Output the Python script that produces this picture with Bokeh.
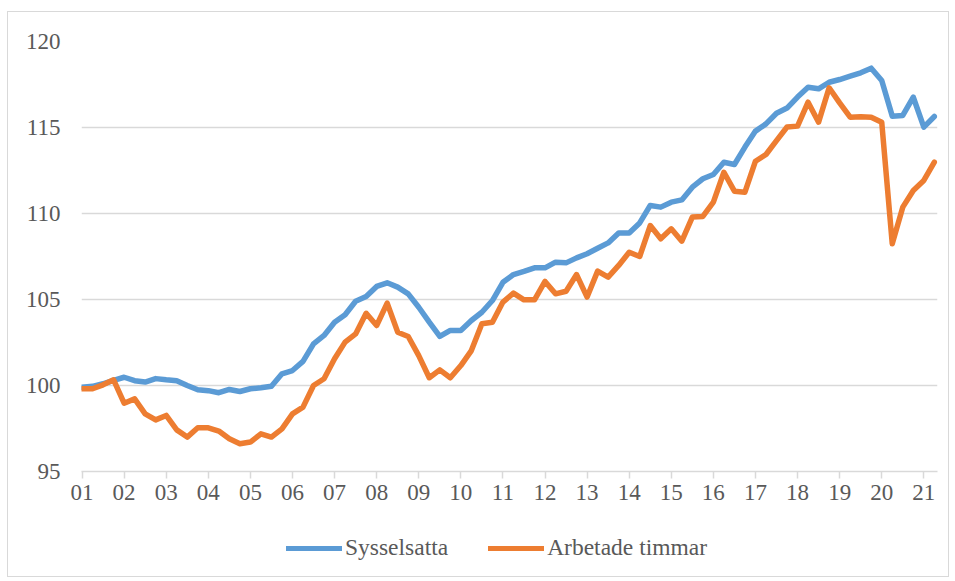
from bokeh.plotting import figure
from bokeh.layouts import column
from bokeh.models import Range1d, FixedTicker, Legend, LegendItem
from bokeh.embed import file_html
from bokeh.resources import INLINE

# ---- data -------------------------------------------------------------
year_labels = ["01", "02", "03", "04", "05", "06", "07", "08", "09", "10",
               "11", "12", "13", "14", "15", "16", "17", "18", "19", "20", "21"]
y_ticks = [95, 100, 105, 110, 115, 120]
series_names = ["Sysselsatta", "Arbetade timmar"]

# quarterly index values, 2001 Q1 .. 2021 Q2
sysselsatta = [
    99.9, 99.95, 100.1, 100.3,
    100.48, 100.28, 100.2, 100.4,
    100.33, 100.28, 100.0, 99.75,
    99.7, 99.58, 99.77, 99.65,
    99.81, 99.87, 99.96, 100.68,
    100.87, 101.4, 102.42, 102.91,
    103.68, 104.11, 104.9, 105.17,
    105.76, 105.97, 105.72, 105.33,
    104.55, 103.68, 102.85, 103.2,
    103.2, 103.78, 104.26, 104.94,
    106.0, 106.45, 106.63, 106.84,
    106.84, 107.17, 107.13, 107.42,
    107.66, 107.98, 108.29, 108.87,
    108.87, 109.45, 110.47, 110.37,
    110.66, 110.79, 111.53, 112.02,
    112.27, 112.98, 112.85, 113.86,
    114.79, 115.21, 115.83, 116.13,
    116.77, 117.34, 117.25, 117.63,
    117.79, 117.98, 118.18, 118.45,
    117.73, 115.66, 115.7, 116.76,
    115.02, 115.64,
]
arbetade_timmar = [
    99.81, 99.81, 100.04, 100.33,
    98.97, 99.22, 98.35, 98.0,
    98.26, 97.42, 97.0, 97.54,
    97.54, 97.35, 96.9, 96.61,
    96.71, 97.19, 97.0, 97.48,
    98.35, 98.74, 100.0, 100.39,
    101.55, 102.52, 103.0, 104.2,
    103.49, 104.79, 103.1, 102.85,
    101.74, 100.45, 100.91, 100.45,
    101.16, 102.03, 103.59, 103.68,
    104.85, 105.37, 104.98, 104.98,
    106.05, 105.33, 105.48, 106.45,
    105.14, 106.65, 106.3, 106.98,
    107.75, 107.5, 109.3, 108.53,
    109.11, 108.39, 109.79, 109.83,
    110.66, 112.4, 111.3, 111.24,
    113.04, 113.43, 114.24, 115.03,
    115.08, 116.47, 115.31, 117.31,
    116.43, 115.6, 115.63, 115.6,
    115.3, 108.24, 110.37, 111.34,
    111.92, 112.98,
]
colors = ["#5B9BD5", "#ED7D31"]

# ---- main chart -------------------------------------------------------
x = list(range(len(sysselsatta)))
FONT = "Liberation Serif"
TXT = "#595959"
GRID = "#d9d9d9"

p = figure(width=940, height=508, output_backend="svg", toolbar_location=None, tools="",
           x_range=Range1d(-0.05, len(x) - 0.7), y_range=Range1d(y_ticks[0], y_ticks[-1]),
           min_border_left=73, min_border_right=11, min_border_top=29, min_border_bottom=49)
p.outline_line_color = None
p.background_fill_color = "white"
p.border_fill_color = "white"

r1 = p.line(x, sysselsatta, line_color=colors[0], line_width=5.5,
            line_join="round", line_cap="round")
r2 = p.line(x, arbetade_timmar, line_color=colors[1], line_width=5.5,
            line_join="round", line_cap="round")

# grid
p.xgrid.visible = False
p.ygrid.grid_line_color = GRID
p.ygrid.grid_line_width = 1.5
p.ygrid.ticker = FixedTicker(ticks=y_ticks)

# y axis
p.yaxis.ticker = FixedTicker(ticks=y_ticks)
p.yaxis.axis_line_color = None
p.yaxis.major_tick_line_color = None
p.yaxis.minor_tick_line_color = None
p.yaxis.major_label_standoff = 15
p.yaxis.major_label_text_font = FONT
p.yaxis.major_label_text_font_size = "23px"
p.yaxis.major_label_text_color = TXT

# x axis
x_ticks = [i * 4 for i in range(len(year_labels))]
p.xaxis.ticker = FixedTicker(ticks=x_ticks)
p.xaxis.major_label_overrides = {t: lab for t, lab in zip(x_ticks, year_labels)}
p.xaxis.axis_line_color = GRID
p.xaxis.axis_line_width = 1.5
p.xaxis.major_tick_line_color = GRID
p.xaxis.major_tick_line_width = 1.5
p.xaxis.major_tick_in = 0
p.xaxis.major_tick_out = 7
p.xaxis.minor_tick_line_color = None
p.xaxis.major_label_standoff = 6
p.xaxis.major_label_text_font = FONT
p.xaxis.major_label_text_font_size = "23px"
p.xaxis.major_label_text_color = TXT

# ---- legend strip: same series, view range set so only the legend shows ----
pl = figure(width=940, height=56, output_backend="svg", toolbar_location=None, tools="",
            x_axis_location=None, y_axis_location=None,
            min_border_left=0, min_border_right=0, min_border_top=0, min_border_bottom=0,
            x_range=Range1d(0, 1), y_range=Range1d(0, 1))
pl.grid.visible = False
pl.outline_line_color = None
pl.background_fill_color = "white"
pl.border_fill_color = "white"
k1 = pl.line(x, sysselsatta, line_color=colors[0], line_width=5, line_cap="round")
k2 = pl.line(x, arbetade_timmar, line_color=colors[1], line_width=5, line_cap="round")

legend = Legend(items=[LegendItem(label=series_names[0], renderers=[k1]),
                       LegendItem(label=series_names[1], renderers=[k2])],
                orientation="horizontal", location=(205, 15),
                label_text_font=FONT, label_text_font_size="23.5px",
                label_text_color=TXT, glyph_width=56, glyph_height=26, label_height=26,
                label_standoff=3, spacing=40, padding=0, margin=0,
                border_line_color=None, background_fill_alpha=0)
pl.add_layout(legend, "center")

layout = column(p, pl, spacing=0,
                styles={"border": "1px solid #d9d9d9", "margin": "11px 0 0 7px"})

open("out.html", "w").write(file_html(layout, INLINE))
